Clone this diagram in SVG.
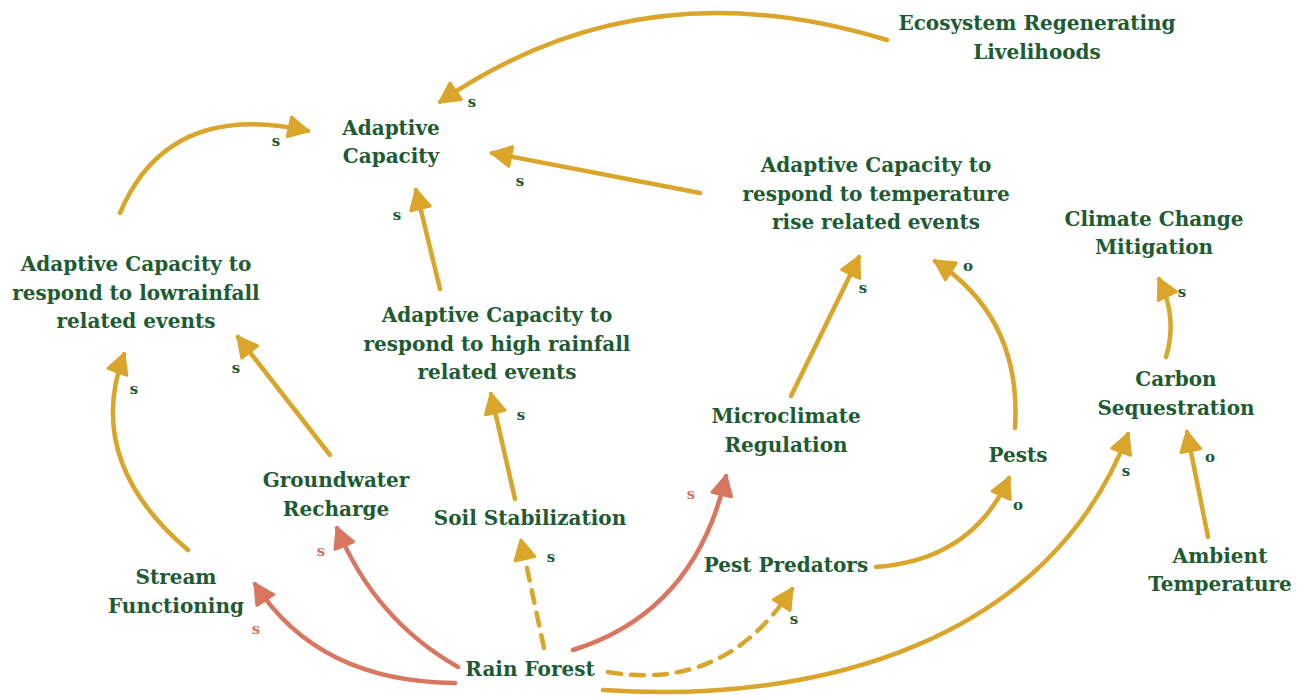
<svg xmlns="http://www.w3.org/2000/svg" width="1308" height="700" viewBox="0 0 1308 700">
  <defs>
    <style>
      .node text { font-family: "DejaVu Serif", "Liberation Serif", serif; font-weight: bold; font-size: 20px; fill: #1e5b32; text-anchor: middle; }
      .lbl { font-family: "DejaVu Serif", "Liberation Serif", serif; font-weight: bold; font-size: 15px; text-anchor: middle; }
      .lbl-g { fill: #1e5b32; }
      .lbl-r { fill: #d9765f; }
      .edge { fill: none; stroke-width: 4.5; stroke-linecap: round; }
      .gold { stroke: #daa52b; marker-end: url(#arrow-gold); }
      .red { stroke: #d9765f; marker-end: url(#arrow-red); }
      .dash { stroke-dasharray: 13 10; }
    </style>
    <marker id="arrow-gold" markerUnits="userSpaceOnUse" viewBox="-24 -14 28 28" refX="0" refY="0" markerWidth="28" markerHeight="28" orient="auto">
      <path d="M0,0 L-19,-10 L-19,10 Z" fill="#daa52b" stroke="#daa52b" stroke-width="3" stroke-linejoin="round"/>
    </marker>
    <marker id="arrow-red" markerUnits="userSpaceOnUse" viewBox="-24 -14 28 28" refX="0" refY="0" markerWidth="28" markerHeight="28" orient="auto">
      <path d="M0,0 L-19,-10 L-19,10 Z" fill="#d9765f" stroke="#d9765f" stroke-width="3" stroke-linejoin="round"/>
    </marker>
  </defs>

  <rect width="1308" height="700" fill="#ffffff"/>

  <!-- connectors -->
  <g id="connectors">
    <path class="edge gold" d="M887,40 Q640,-36 440,102"/>
    <path class="edge gold" d="M120,213 Q168,100 308,131"/>
    <path class="edge gold" d="M700,193 L492,153"/>
    <path class="edge gold" d="M440,289 L416,190"/>
    <path class="edge gold" d="M791,396 L859,257"/>
    <path class="edge gold" d="M1015,428 Q1022,318 935,261"/>
    <path class="edge gold" d="M1166,357 Q1178,318 1159,279"/>
    <path class="edge gold" d="M188,550 Q84,462 124,354"/>
    <path class="edge gold" d="M330,455 L238,337"/>
    <path class="edge gold" d="M515,499 L491,394"/>
    <path class="edge gold" d="M1208,537 L1187,432"/>
    <path class="edge red" d="M455,683 Q318,682 255,584"/>
    <path class="edge red" d="M458,667 Q375,620 337,528"/>
    <path class="edge gold dash" d="M544,648 L521,540"/>
    <path class="edge red" d="M573,650 Q695,612 726,476"/>
    <path class="edge gold dash" d="M608,672 Q725,692 792,589"/>
    <path class="edge gold" d="M876,567 Q972,560 1009,478"/>
    <path class="edge gold" d="M603,690 C820,705 1050,640 1128,434"/>
  </g>

  <!-- polarity labels -->
  <g id="edge-labels">
    <text class="lbl lbl-g" x="472" y="107">s</text>
    <text class="lbl lbl-g" x="276" y="146">s</text>
    <text class="lbl lbl-g" x="520" y="186">s</text>
    <text class="lbl lbl-g" x="397" y="220">s</text>
    <text class="lbl lbl-g" x="863" y="293">s</text>
    <text class="lbl lbl-g" x="968" y="271">o</text>
    <text class="lbl lbl-g" x="1182" y="297">s</text>
    <text class="lbl lbl-g" x="134" y="394">s</text>
    <text class="lbl lbl-g" x="236" y="373">s</text>
    <text class="lbl lbl-g" x="521" y="420">s</text>
    <text class="lbl lbl-r" x="691" y="499">s</text>
    <text class="lbl lbl-g" x="1126" y="476">s</text>
    <text class="lbl lbl-g" x="1210" y="462">o</text>
    <text class="lbl lbl-g" x="1018" y="510">o</text>
    <text class="lbl lbl-r" x="321" y="556">s</text>
    <text class="lbl lbl-g" x="551" y="562">s</text>
    <text class="lbl lbl-r" x="256" y="634">s</text>
    <text class="lbl lbl-g" x="794" y="624">s</text>
  </g>

  <!-- nodes -->
  <g id="ecosystem-regenerating-livelihoods" class="node">
    <text x="1037" y="30">Ecosystem Regenerating</text>
    <text x="1037" y="59">Livelihoods</text>
  </g>
  <g id="adaptive-capacity" class="node">
    <text x="391" y="135">Adaptive</text>
    <text x="391" y="163">Capacity</text>
  </g>
  <g id="ac-temperature" class="node">
    <text x="876" y="172">Adaptive Capacity to</text>
    <text x="876" y="201">respond to temperature</text>
    <text x="876" y="229">rise related events</text>
  </g>
  <g id="climate-change-mitigation" class="node">
    <text x="1154" y="226">Climate Change</text>
    <text x="1154" y="254">Mitigation</text>
  </g>
  <g id="ac-low-rainfall" class="node">
    <text x="136" y="271">Adaptive Capacity to</text>
    <text x="136" y="300">respond to lowrainfall</text>
    <text x="136" y="328">related events</text>
  </g>
  <g id="ac-high-rainfall" class="node">
    <text x="497" y="322">Adaptive Capacity to</text>
    <text x="497" y="351">respond to high rainfall</text>
    <text x="497" y="379">related events</text>
  </g>
  <g id="microclimate-regulation" class="node">
    <text x="786" y="423">Microclimate</text>
    <text x="786" y="452">Regulation</text>
  </g>
  <g id="carbon-sequestration" class="node">
    <text x="1176" y="386">Carbon</text>
    <text x="1176" y="415">Sequestration</text>
  </g>
  <g id="pests" class="node">
    <text x="1018" y="462">Pests</text>
  </g>
  <g id="groundwater-recharge" class="node">
    <text x="336" y="487">Groundwater</text>
    <text x="336" y="516">Recharge</text>
  </g>
  <g id="soil-stabilization" class="node">
    <text x="530" y="525">Soil Stabilization</text>
  </g>
  <g id="stream-functioning" class="node">
    <text x="176" y="584">Stream</text>
    <text x="176" y="613">Functioning</text>
  </g>
  <g id="pest-predators" class="node">
    <text x="786" y="572">Pest Predators</text>
  </g>
  <g id="ambient-temperature" class="node">
    <text x="1220" y="563">Ambient</text>
    <text x="1220" y="591">Temperature</text>
  </g>
  <g id="rain-forest" class="node">
    <text x="530" y="676">Rain Forest</text>
  </g>
</svg>
